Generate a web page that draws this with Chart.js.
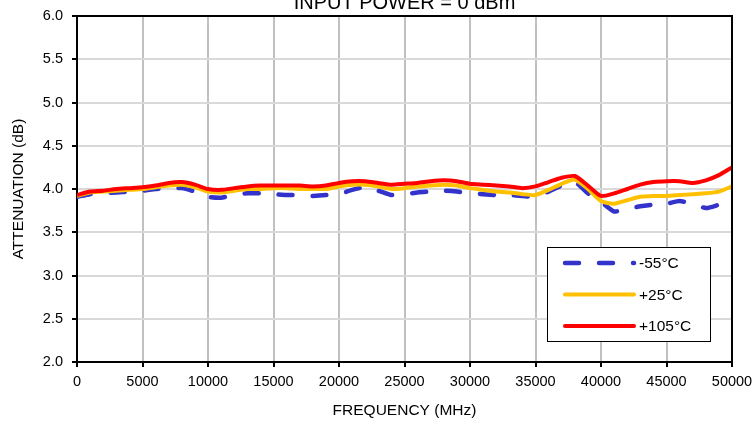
<!DOCTYPE html>
<html>
<head>
<meta charset="utf-8">
<script src="https://cdn.jsdelivr.net/npm/chart.js@4.4.1/dist/chart.umd.min.js"></script>
<style>
  html, body { margin: 0; padding: 0; background: #fff; }
  #wrap { width: 754px; height: 422px; }
</style>
</head>
<body>
<div id="wrap"><canvas id="canvas" width="754" height="422"></canvas></div>
<script>
  'use strict'

  // frequency points (MHz)
  var freqs = [0, 1000, 2000, 3000, 4000, 5000, 6000, 7000, 8000, 9000,
    10000, 11000, 12000, 13000, 14000, 15000, 16000, 17000, 18000, 19000,
    20000, 21000, 22000, 23000, 24000, 25000, 26000, 27000, 28000, 29000,
    30000, 31000, 32000, 33000, 34000, 35000, 36000, 37000, 38000, 39000,
    40000, 41000, 42000, 43000, 44000, 45000, 46000, 47000, 48000, 49000, 50000]

  // attenuation (dB)
  var attMinus55 = [3.91, 3.94, 3.95, 3.96, 3.97, 3.98, 4.00, 4.01, 4.01, 3.97,
    3.91, 3.90, 3.93, 3.95, 3.95, 3.94, 3.93, 3.93, 3.92, 3.93,
    3.94, 3.99, 4.02, 3.98, 3.93, 3.94, 3.96, 3.97, 3.98, 3.97,
    3.95, 3.94, 3.93, 3.93, 3.92, 3.91, 3.97, 4.04, 4.08, 3.95,
    3.85, 3.74, 3.77, 3.80, 3.82, 3.83, 3.86, 3.83, 3.78, 3.82, 3.90]
  var attPlus25 = [3.92, 3.96, 3.97, 3.98, 3.99, 4.00, 4.02, 4.04, 4.05, 4.02,
    3.97, 3.96, 3.98, 4.00, 4.00, 4.01, 4.01, 4.00, 4.00, 4.00,
    4.03, 4.05, 4.05, 4.03, 4.00, 4.01, 4.03, 4.04, 4.05, 4.04,
    4.01, 3.99, 3.97, 3.96, 3.94, 3.93, 3.99, 4.06, 4.11, 4.00,
    3.86, 3.83, 3.87, 3.91, 3.92, 3.92, 3.93, 3.94, 3.95, 3.97, 4.03]
  var attPlus105 = [3.93, 3.97, 3.98, 4.00, 4.01, 4.02, 4.04, 4.07, 4.08, 4.05,
    4.00, 3.99, 4.01, 4.03, 4.04, 4.04, 4.04, 4.04, 4.03, 4.04,
    4.07, 4.09, 4.09, 4.07, 4.05, 4.06, 4.07, 4.09, 4.10, 4.09,
    4.06, 4.05, 4.04, 4.03, 4.01, 4.03, 4.08, 4.13, 4.15, 4.04,
    3.92, 3.95, 4.00, 4.05, 4.08, 4.09, 4.09, 4.07, 4.10, 4.16, 4.25]

  var seriesLabels = ['-55°C', '+25°C', '+105°C']
  var titleText = 'INPUT POWER = 0 dBm'
  var font = 'Liberation Sans, Arial, sans-serif'

  function points (values) {
    return freqs.map(function (f, i) { return { x: f, y: values[i] } })
  }

  // top/right frame + title + boxed legend inside the plot
  var decor = {
    id: 'decor',
    afterDraw: function (chart) {
      var ctx = chart.ctx
      var a = chart.chartArea
      ctx.save()
      ctx.strokeStyle = '#000'
      ctx.lineWidth = 2
      ctx.beginPath()
      ctx.moveTo(a.left, a.top)
      ctx.lineTo(a.right, a.top)
      ctx.lineTo(a.right, a.bottom)
      ctx.stroke()

      ctx.fillStyle = '#000'
      ctx.font = '20px ' + font
      ctx.textAlign = 'center'
      ctx.textBaseline = 'alphabetic'
      ctx.fillText(titleText, (a.left + a.right) / 2, 9)

      var bx = a.right - 185
      var by = a.bottom - 115
      var bw = 163
      var bh = 94
      ctx.fillStyle = '#fff'
      ctx.fillRect(bx, by, bw, bh)
      ctx.lineWidth = 1
      ctx.strokeStyle = '#000'
      ctx.strokeRect(bx + 0.5, by + 0.5, bw, bh)

      ctx.font = '15.5px ' + font
      ctx.textAlign = 'left'
      ctx.textBaseline = 'middle'
      chart.data.datasets.forEach(function (ds, i) {
        var y = by + 16 + i * 31.5
        ctx.save()
        ctx.strokeStyle = ds.borderColor
        ctx.lineWidth = ds.borderWidth
        ctx.lineCap = 'round'
        ctx.setLineDash(ds.borderDash || [])
        ctx.beginPath()
        ctx.moveTo(bx + 18, y)
        ctx.lineTo(bx + 87, y)
        ctx.stroke()
        ctx.restore()
        ctx.fillStyle = '#000'
        ctx.fillText(ds.label, bx + 92, y + 1)
      })
      ctx.restore()
    }
  }

  var context = document.getElementById('canvas').getContext('2d')
  new Chart(context, {
    type: 'line',
    data: {
      datasets: [{
        label: seriesLabels[0],
        data: points(attMinus55),
        borderColor: '#3333cc',
        borderWidth: 4.5,
        borderDash: [14, 20],
        borderCapStyle: 'round',
        pointRadius: 0,
        tension: 0.2,
        order: 2
      }, {
        label: seriesLabels[1],
        data: points(attPlus25),
        borderColor: '#ffc000',
        borderWidth: 4,
        pointRadius: 0,
        tension: 0.2,
        order: 1
      }, {
        label: seriesLabels[2],
        data: points(attPlus105),
        borderColor: '#ff0000',
        borderWidth: 4,
        pointRadius: 0,
        tension: 0.2,
        order: 0
      }]
    },
    options: {
      responsive: false,
      animation: false,
      devicePixelRatio: 1,
      layout: { padding: { top: 16, right: 22, left: 0, bottom: 0 } },
      plugins: {
        legend: { display: false },
        title: { display: false },
        tooltip: { enabled: false }
      },
      scales: {
        x: {
          type: 'linear',
          min: 0,
          max: 50000,
          afterFit: function (scale) {
            scale.height = 60
            scale.paddingRight = 22
          },
          ticks: {
            stepSize: 5000,
            maxRotation: 0,
            autoSkip: false,
            padding: 6,
            color: '#000',
            font: { family: font, size: 14.5 },
            callback: function (v) { return String(v) }
          },
          grid: {
            color: '#c0c0c0',
            lineWidth: 2,
            tickColor: '#000',
            tickLength: 5,
            tickWidth: 2
          },
          border: { color: '#000', width: 2 },
          title: {
            display: true,
            text: 'FREQUENCY (MHz)',
            color: '#000',
            font: { family: font, size: 15.5 },
            padding: { top: 0, bottom: 2 }
          }
        },
        y: {
          min: 2,
          max: 6,
          afterFit: function (scale) {
            scale.width = 77
            scale.paddingTop = 0
          },
          ticks: {
            stepSize: 0.5,
            padding: 9,
            color: '#000',
            font: { family: font, size: 14.5 },
            callback: function (v) { return v.toFixed(1) }
          },
          grid: {
            color: '#d9d9d9',
            lineWidth: 2,
            tickColor: '#000',
            tickLength: 5,
            tickWidth: 2
          },
          border: { color: '#000', width: 2 },
          title: {
            display: true,
            text: 'ATTENUATION (dB)',
            color: '#000',
            font: { family: font, size: 15.5 },
            padding: { top: 9, bottom: 0 }
          }
        }
      }
    },
    plugins: [decor]
  })
</script>
</body>
</html>
